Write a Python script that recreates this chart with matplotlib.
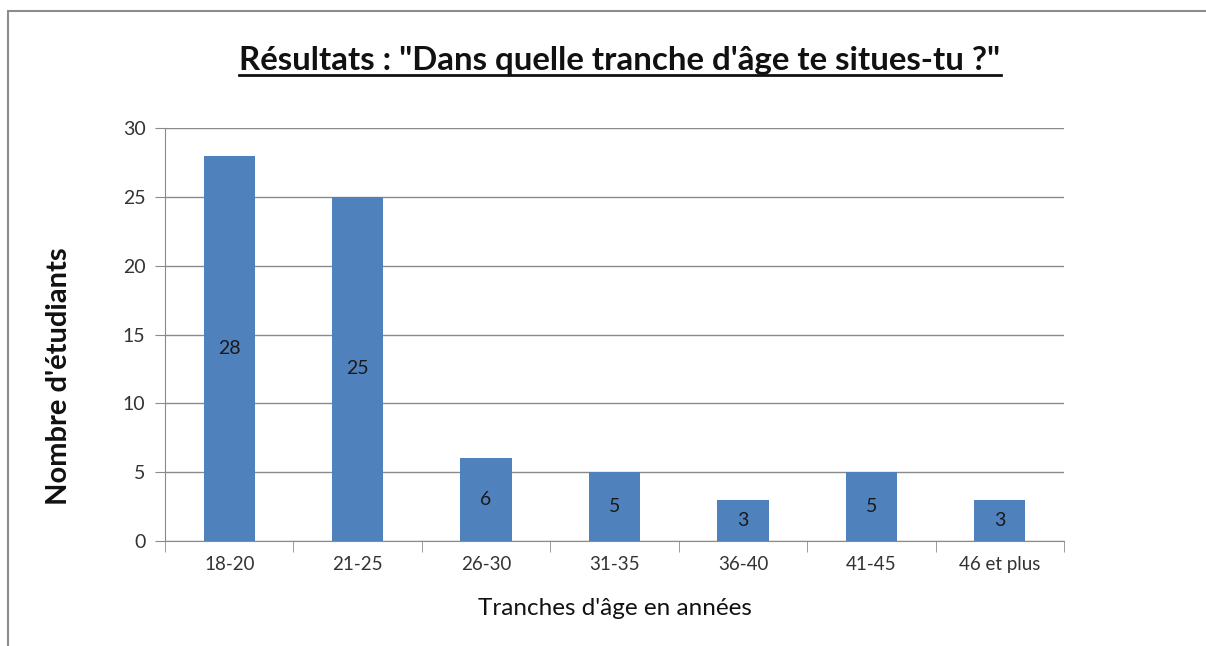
import matplotlib.pyplot as plt
from matplotlib.patches import Rectangle
from matplotlib.lines import Line2D

plt.rcParams['font.family'] = ['Lato', 'DejaVu Sans']

categories = ["18-20", "21-25", "26-30", "31-35", "36-40", "41-45", "46 et plus"]
counts = [28, 25, 6, 5, 3, 5, 3]

fig = plt.figure(figsize=(12.06, 6.46), dpi=100)
ax = fig.add_axes([165 / 1206, 105 / 646, 899 / 1206, 413 / 646])

# outer frame of the chart area
fig.patches.append(Rectangle((8 / 1206, -0.1), 1.2, (646 - 11) / 646 + 0.1,
                             transform=fig.transFigure, fill=False,
                             edgecolor="#8c8c8c", linewidth=1.5))

x = range(len(categories))
bars = ax.bar(x, counts, width=0.4, color="#4F81BD", zorder=3)
for xi, v in zip(x, counts):
    ax.text(xi, v / 2, str(v), ha="center", va="center", fontsize=14, color="#1a1a1a", zorder=4)

ax.set_xlim(-0.5, len(categories) - 0.5)
ax.set_ylim(0, 30)
ax.set_yticks(range(0, 31, 5))
ax.yaxis.grid(True, color="#8a8a8a", linewidth=1)
ax.set_axisbelow(True)
ax.set_xticks(list(x))
ax.set_xticklabels(categories, fontsize=13.5, color="#333333")
ax.set_xticks([i - 0.5 for i in range(len(categories) + 1)], minor=True)
ax.tick_params(axis="x", which="major", length=0, pad=11)
ax.tick_params(axis="x", which="minor", length=8, color="#8a8a8a")
ax.tick_params(axis="y", length=7, color="#8a8a8a", labelsize=14, labelcolor="#333333", pad=7)
for s in ["top", "right"]:
    ax.spines[s].set_visible(False)
for s in ["left", "bottom"]:
    ax.spines[s].set_color("#8a8a8a")

ax.set_xlabel("Tranches d'âge en années", fontsize=17.5, labelpad=18, color="#111111")
ax.set_ylabel("Nombre d'étudiants", fontsize=21, fontweight="bold", color="#111111")
ax.yaxis.set_label_coords(-0.104, 0.40)

title = fig.text(620 / 1206, 1 - 70 / 646, 'Résultats : "Dans quelle tranche d\'âge te situes-tu ?"',
                 ha="center", va="baseline", fontsize=23.8, fontweight="bold", color="#111111")
fig.canvas.draw()
bb = title.get_window_extent().transformed(fig.transFigure.inverted())
uy = 1 - 75 / 646
fig.lines.append(Line2D([bb.x0, bb.x1], [uy, uy], transform=fig.transFigure, color="#111111", linewidth=2))

fig.savefig("out.png", dpi=100)
